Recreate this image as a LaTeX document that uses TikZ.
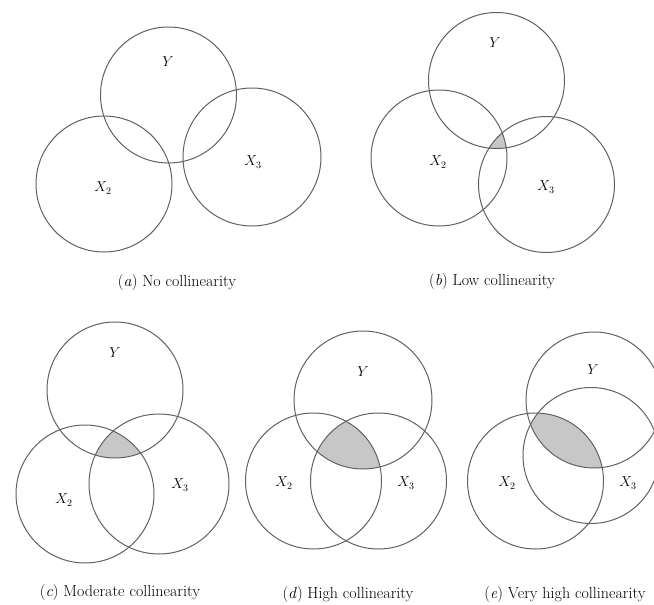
\documentclass[tikz,border=0pt]{standalone}
\begin{document}
\begin{tikzpicture}[x=1pt,y=-1pt,
  circ/.style={draw=black!62, line width=1pt},
  overlap/.style={fill=black!22},
  lab/.style={font=\fontsize{14}{16}\selectfont, inner sep=0pt},
  captiontext/.style={font=\fontsize{16}{19}\selectfont, inner sep=0pt}]
\useasboundingbox (0,0) rectangle (654,605);
\clip (0,0) rectangle (654,605);
% ---------- (a) ----------
\draw[circ] (168.5,95) circle[radius=68];
\draw[circ] (104,184) circle[radius=68];
\draw[circ] (252,157) circle[radius=69];
\node[lab] (aY) at (168,62) {$Y$};
\node[lab] (aX2) at (103,188) {$X_2$};
\node[lab] (aX3) at (253,162) {$X_3$};
\node[captiontext] (acap) at (177,283) {(\textit{a}) No collinearity};
% ---------- (b) ----------
\begin{scope}
  \clip (496.5,80.5) circle[radius=68];
  \clip (439,158) circle[radius=68];
  \fill[overlap] (546.5,184.5) circle[radius=68];
\end{scope}
\draw[circ] (496.5,80.5) circle[radius=68];
\draw[circ] (439,158) circle[radius=68];
\draw[circ] (546.5,184.5) circle[radius=68];
\node[lab] (bY) at (495,43) {$Y$};
\node[lab] (bX2) at (438,162) {$X_2$};
\node[lab] (bX3) at (546,187) {$X_3$};
\node[captiontext] (bcap) at (492,282) {(\textit{b}) Low collinearity};
% ---------- (c) ----------
\begin{scope}
  \clip (115,390) circle[radius=68];
  \clip (85,494) circle[radius=69];
  \fill[overlap] (159,484) circle[radius=70];
\end{scope}
\draw[circ] (115,390) circle[radius=68];
\draw[circ] (85,494) circle[radius=69];
\draw[circ] (159,484) circle[radius=70];
\node[lab] (cY) at (115,353) {$Y$};
\node[lab] (cX2) at (64,500) {$X_2$};
\node[lab] (cX3) at (180,485) {$X_3$};
\node[captiontext] (ccap) at (120,593) {(\textit{c}) Moderate collinearity};
% ---------- (d) ----------
\begin{scope}
  \clip (363,400) circle[radius=69];
  \clip (313.5,481) circle[radius=68];
  \fill[overlap] (378.5,481) circle[radius=68];
\end{scope}
\draw[circ] (363,400) circle[radius=69];
\draw[circ] (313.5,481) circle[radius=68];
\draw[circ] (378.5,481) circle[radius=68];
\node[lab] (dY) at (363,372) {$Y$};
\node[lab] (dX2) at (284,483) {$X_2$};
\node[lab] (dX3) at (406,483) {$X_3$};
\node[captiontext] (dcap) at (348,595) {(\textit{d}) High collinearity};
% ---------- (e) ----------
\begin{scope}
  \clip (594,400) circle[radius=68];
  \clip (535.5,481) circle[radius=68];
  \fill[overlap] (591,455.5) circle[radius=68];
\end{scope}
\draw[circ] (594,400) circle[radius=68];
\draw[circ] (535.5,481) circle[radius=68];
\draw[circ] (591,455.5) circle[radius=68];
\node[lab] (eY) at (593,370) {$Y$};
\node[lab] (eX2) at (507,483) {$X_2$};
\node[lab] (eX3) at (628,483) {$X_3$};
\node[captiontext] (ecap) at (565,595) {(\textit{e}) Very high collinearity};
\end{tikzpicture}
\end{document}
